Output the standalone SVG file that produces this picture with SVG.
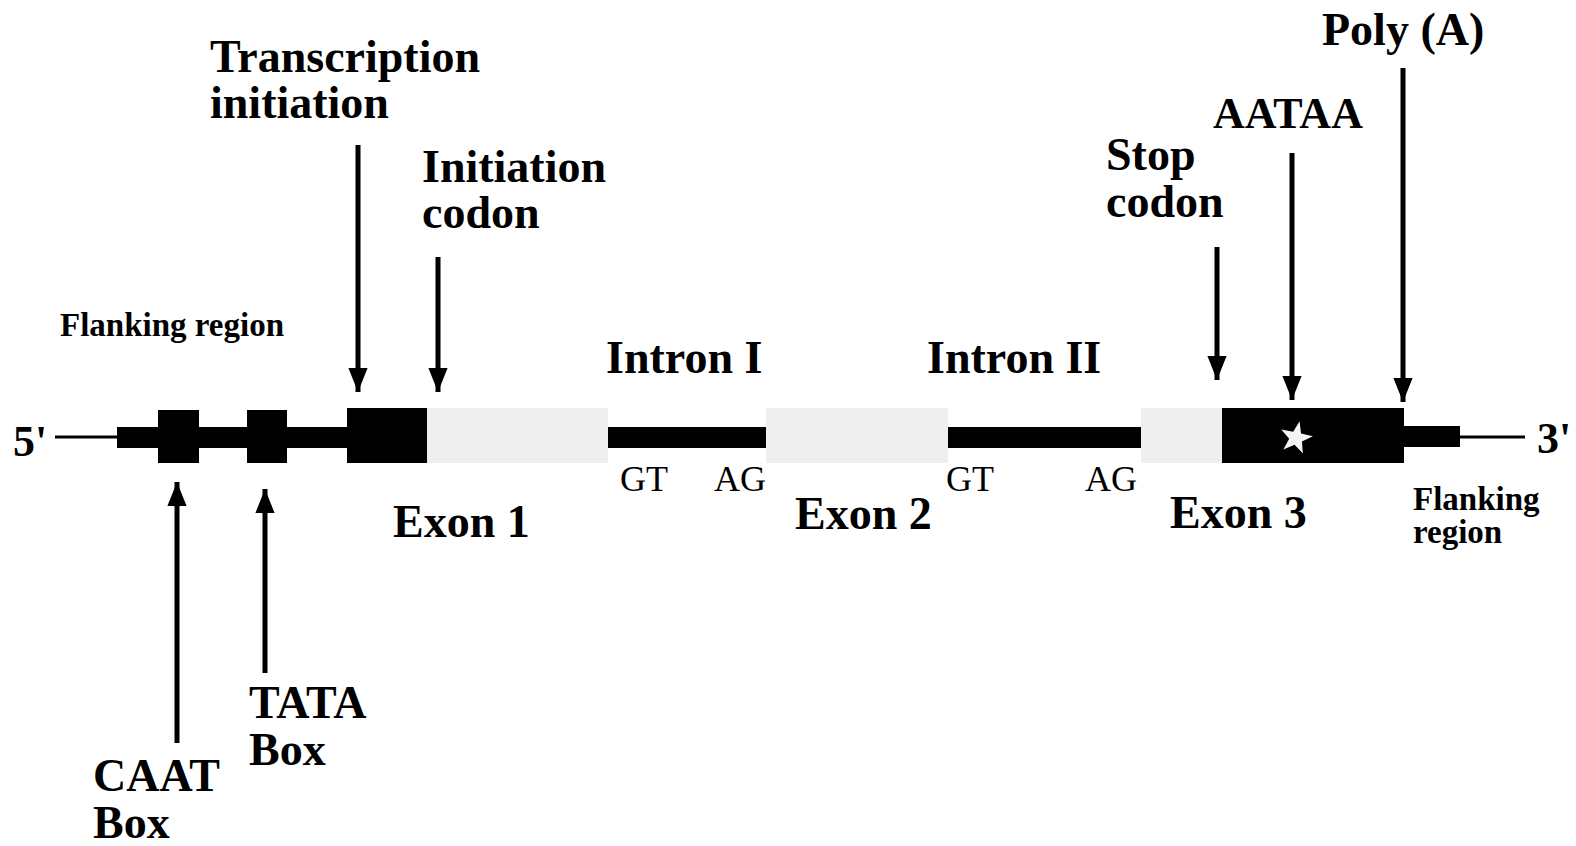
<svg xmlns="http://www.w3.org/2000/svg" width="1576" height="846" viewBox="0 0 1576 846">
<style>
.lbl{font-family:"Liberation Serif","Times New Roman",serif;font-weight:bold;font-size:46px;fill:#000}
.sm{font-family:"Liberation Serif","Times New Roman",serif;font-weight:bold;font-size:33px;fill:#000}
.site{font-family:"Liberation Serif","Times New Roman",serif;font-size:36px;fill:#000}
.end{font-family:"Liberation Serif","Times New Roman",serif;font-weight:bold;font-size:44px;fill:#000}
.blk{fill:#000}
.exon{fill:#efefef}
.arr{stroke:#000;stroke-width:5;fill:none}
</style>
<defs>
<marker id="ah" markerUnits="userSpaceOnUse" markerWidth="24" markerHeight="32" refX="30" refY="12" viewBox="0 0 30 24" orient="auto">
<path d="M0,0 L30,12 L0,24 Z" fill="#000"/>
</marker>
</defs>
<rect width="1576" height="846" fill="#fff"/>
<g id="gene">
<line x1="55" y1="437" x2="117" y2="437" stroke="#000" stroke-width="3"/>
<rect class="blk" x="117" y="427" width="230" height="21"/>
<rect class="blk" x="158" y="410" width="41" height="53"/>
<rect class="blk" x="247" y="410" width="40" height="53"/>
<rect class="blk" x="347" y="408" width="80" height="55"/>
<rect class="exon" x="427" y="408" width="181" height="55"/>
<rect class="blk" x="608" y="427" width="158" height="21"/>
<rect class="exon" x="766" y="408" width="182" height="55"/>
<rect class="blk" x="948" y="427" width="193" height="21"/>
<rect class="exon" x="1141" y="408" width="81" height="55"/>
<rect class="blk" x="1222" y="408" width="182" height="55"/>
<rect class="blk" x="1404" y="426" width="56" height="21"/>
<line x1="1460" y1="437" x2="1525" y2="437" stroke="#000" stroke-width="3"/>
<polygon fill="#f4f4f4" transform="translate(1296,438) rotate(12)" points="0,-17 4,-5.5 16.2,-5.3 6.5,2.1 10,13.8 0,6.8 -10,13.8 -6.5,2.1 -16.2,-5.3 -4,-5.5"/>
</g>
<g id="connectors">
<line class="arr" x1="358" y1="145" x2="358" y2="392" marker-end="url(#ah)"/>
<line class="arr" x1="438" y1="257" x2="438" y2="392" marker-end="url(#ah)"/>
<line class="arr" x1="1217" y1="247" x2="1217" y2="380" marker-end="url(#ah)"/>
<line class="arr" x1="1292" y1="153" x2="1292" y2="400" marker-end="url(#ah)"/>
<line class="arr" x1="1403" y1="68" x2="1403" y2="402" marker-end="url(#ah)"/>
<line class="arr" x1="177" y1="743" x2="177" y2="482" marker-end="url(#ah)"/>
<line class="arr" x1="265" y1="673" x2="265" y2="489" marker-end="url(#ah)"/>
</g>
<g id="labels">
<text class="end" x="13" y="456">5'</text>
<text class="end" x="1537" y="453">3'</text>
<text class="lbl" x="210" y="72">Transcription</text>
<text class="lbl" x="210" y="118">initiation</text>
<text class="lbl" x="422" y="182">Initiation</text>
<text class="lbl" x="422" y="228">codon</text>
<text class="lbl" x="1106" y="170">Stop</text>
<text class="lbl" x="1106" y="217">codon</text>
<text class="lbl" x="1213" y="128" style="font-size:44px">AATAA</text>
<text class="lbl" x="1322" y="45">Poly (A)</text>
<text class="sm" x="60" y="336">Flanking region</text>
<text class="lbl" x="606" y="373">Intron I</text>
<text class="lbl" x="927" y="373">Intron II</text>
<text class="site" x="620" y="491">GT</text>
<text class="site" x="714" y="491">AG</text>
<text class="site" x="946" y="491">GT</text>
<text class="site" x="1085" y="491">AG</text>
<text class="lbl" x="393" y="537">Exon 1</text>
<text class="lbl" x="795" y="529">Exon 2</text>
<text class="lbl" x="1170" y="528">Exon 3</text>
<text class="sm" x="1413" y="510">Flanking</text>
<text class="sm" x="1413" y="543">region</text>
<text class="lbl" x="249" y="718">TATA</text>
<text class="lbl" x="249" y="765">Box</text>
<text class="lbl" x="93" y="791">CAAT</text>
<text class="lbl" x="93" y="838">Box</text>
</g>
</svg>
